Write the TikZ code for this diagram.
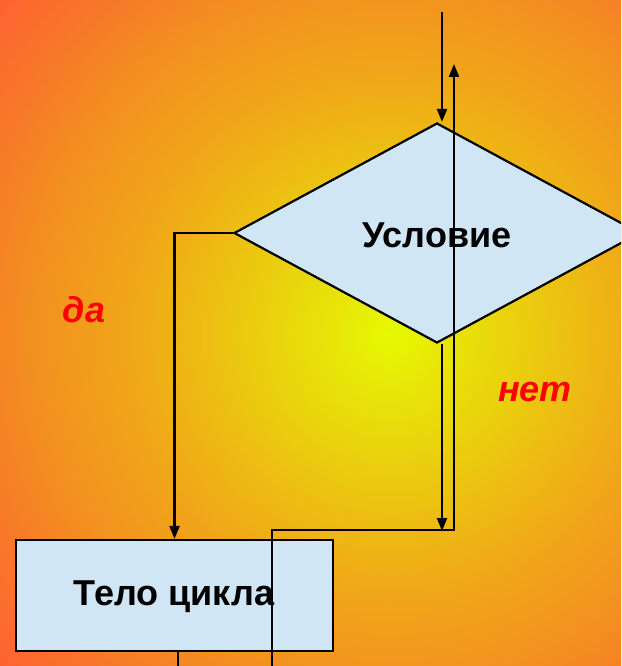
\documentclass[tikz,border=0pt]{standalone}
\usepackage{fontspec}
\setmainfont{Liberation Sans}
\usetikzlibrary{shapes.geometric,arrows.meta}
\definecolor{gA}{HTML}{E6FA00}
\definecolor{gB}{HTML}{E8E408}
\definecolor{gC}{HTML}{EBC810}
\definecolor{gD}{HTML}{F0A818}
\definecolor{gE}{HTML}{F39020}
\definecolor{gF}{HTML}{F77A28}
\definecolor{gG}{HTML}{FF5E33}
\definecolor{boxfill}{HTML}{D0E6F4}
\pgfdeclareradialshading{bgshade}{\pgfpoint{0bp}{0bp}}{color(0bp)=(gA); color(2.9bp)=(gB); color(7.2bp)=(gC); color(12bp)=(gD); color(16.85bp)=(gE); color(20.2bp)=(gF); color(25bp)=(gG); color(50bp)=(gG)}
\tikzset{
  blk/.style={draw=black, line width=2.2pt, fill=boxfill, inner sep=0pt},
  conn/.style={draw=black, line width=2.2pt},
  arr/.style={conn, -{Triangle[length=13pt,width=10pt]}},
  txt/.style={font=\fontsize{36}{40}\selectfont\bfseries},
  lbl/.style={text=red, font=\fontsize{36}{40}\selectfont\bfseries\itshape}
}
\begin{document}
\begin{tikzpicture}[x=1pt,y=-1pt]
\useasboundingbox (0,0) rectangle (621,666);
\begin{scope}
\clip (0,0) rectangle (621,666);
\shade[shading=bgshade] (390,335) circle (530pt);
\node[blk, shape=diamond, minimum width=406pt, minimum height=220pt, aspect=1.85] (dia) at (437,233) {};
\node[txt] (cond) at (437,235) {Условие};
\node[blk, rectangle, minimum width=317pt, minimum height=111pt] (body) at (174.5,595.5) {};
\node[txt] (bodytxt) at (174,597) {Тело цикла};
\node[lbl] (yes) at (84,310) {да};
\node[lbl] (no) at (535,392) {нет};
\coordinate (in1) at (442,12);
\coordinate (up1) at (454,64);
\coordinate (loopc) at (272,530);
\coordinate (bot2) at (272,670);
\coordinate (out) at (178,670);
\draw[arr] (in1) -- (in1 |- dia.north);
\draw[arr] (in1 |- dia.south) -- ([yshift=-1pt]in1 |- loopc);
\draw[arr] (bot2) -- (loopc) -- (loopc -| up1) -- (up1);
\draw[arr] (dia.west) -| (body.north);
\draw[conn] (body.south -| out) -- (out);
\end{scope}
\end{tikzpicture}
\end{document}
